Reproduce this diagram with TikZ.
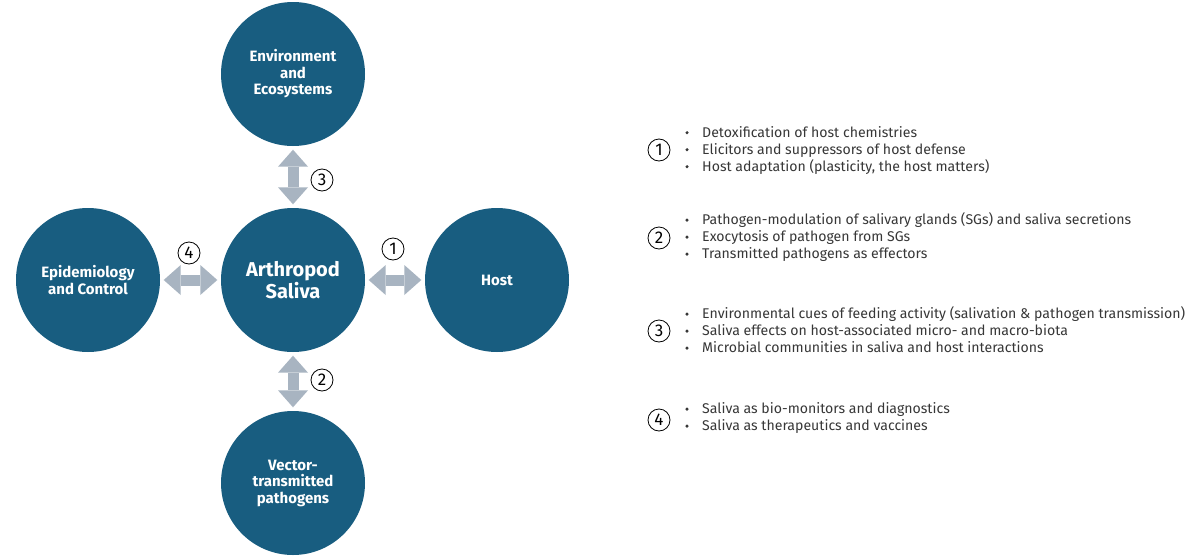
\documentclass[tikz,border=0pt]{standalone}
\usepackage{fontspec}
\setmainfont{Fira Sans}
\usetikzlibrary{arrows.meta}
\definecolor{circ}{RGB}{24,93,128}
\definecolor{arr}{RGB}{168,180,193}
\definecolor{txt}{RGB}{55,55,55}
\begin{document}
\begin{tikzpicture}[x=1pt,y=-1pt,
  bub/.style={circle,fill=circ,minimum size=144pt,inner sep=0pt,text=white,
    font=\bfseries\fontsize{15}{16.5}\selectfont,align=center},
  link/.style={draw=arr,line width=11pt,
    {Triangle[length=17pt,width=30pt,line width=0pt]}-{Triangle[length=17pt,width=30pt,line width=0pt]},
    shorten <=3.5pt,shorten >=3.5pt},
  num/.style={circle,draw=black,line width=0.8pt,minimum size=22pt,inner sep=0pt,
    font=\fontsize{17}{17}\selectfont},
  bul/.style={circle,fill=txt,minimum size=3.4pt,inner sep=0pt,yshift=4.6pt},
  itm/.style={anchor=base west,text=txt,inner sep=0pt,font=\fontsize{14.1}{17}\selectfont}
]
\useasboundingbox (0,0) rectangle (1200,557);
\fill[white] (0,0) rectangle (1200,557);

% circles
\node[bub] (env)  at (293,74)  {Environment\\and\\Ecosystems};
\node[bub,font=\bfseries\fontsize{20}{22}\selectfont] (sal) at (293,280) {Arthropod\\Saliva};
\node[bub] (vec)  at (293,483) {Vector-\\transmitted\\pathogens};
\node[bub] (epi)  at (88,280)  {Epidemiology\\and Control};
\node[bub] (host) at (497,280) {Host};

% connectors
\draw[link] (env) -- (sal);
\draw[link] (sal) -- (vec);
\draw[link] (epi) -- (sal);
\draw[link] (sal) -- (host);

% circled numbers in diagram
\node[num] (d1) at (393,249) {1};
\node[num] (d2) at (322,380) {2};
\node[num] (d3) at (322,180) {3};
\node[num] (d4) at (189,253) {4};

% right list
\node[num] (k1) at (659,150) {1};
\node[bul] (b11) at (687,137.3) {};
\node[itm] (t11) at (702,137.3) {Detoxification of host chemistries};
\node[bul] (b12) at (687,154.3) {};
\node[itm] (t12) at (702,154.3) {Elicitors and suppressors of host defense};
\node[bul] (b13) at (687,171.3) {};
\node[itm] (t13) at (702,171.3) {Host adaptation (plasticity, the host matters)};

\node[num] (k2) at (659,238) {2};
\node[bul] (b21) at (687,224.7) {};
\node[itm] (t21) at (702,224.7) {Pathogen-modulation of salivary glands (SGs) and saliva secretions};
\node[bul] (b22) at (687,241.7) {};
\node[itm] (t22) at (702,241.7) {Exocytosis of pathogen from SGs};
\node[bul] (b23) at (687,258.7) {};
\node[itm] (t23) at (702,258.7) {Transmitted pathogens as effectors};

\node[num] (k3) at (659,331) {3};
\node[bul] (b31) at (687,318.7) {};
\node[itm] (t31) at (702,318.7) {Environmental cues of feeding activity (salivation \& pathogen transmission)};
\node[bul] (b32) at (687,335.7) {};
\node[itm] (t32) at (702,335.7) {Saliva effects on host-associated micro- and macro-biota};
\node[bul] (b33) at (687,352.7) {};
\node[itm] (t33) at (702,352.7) {Microbial communities in saliva and host interactions};

\node[num] (k4) at (659,420) {4};
\node[bul] (b41) at (687,413.7) {};
\node[itm] (t41) at (702,413.7) {Saliva as bio-monitors and diagnostics};
\node[bul] (b42) at (687,430.7) {};
\node[itm] (t42) at (702,430.7) {Saliva as therapeutics and vaccines};
\end{tikzpicture}
\end{document}
